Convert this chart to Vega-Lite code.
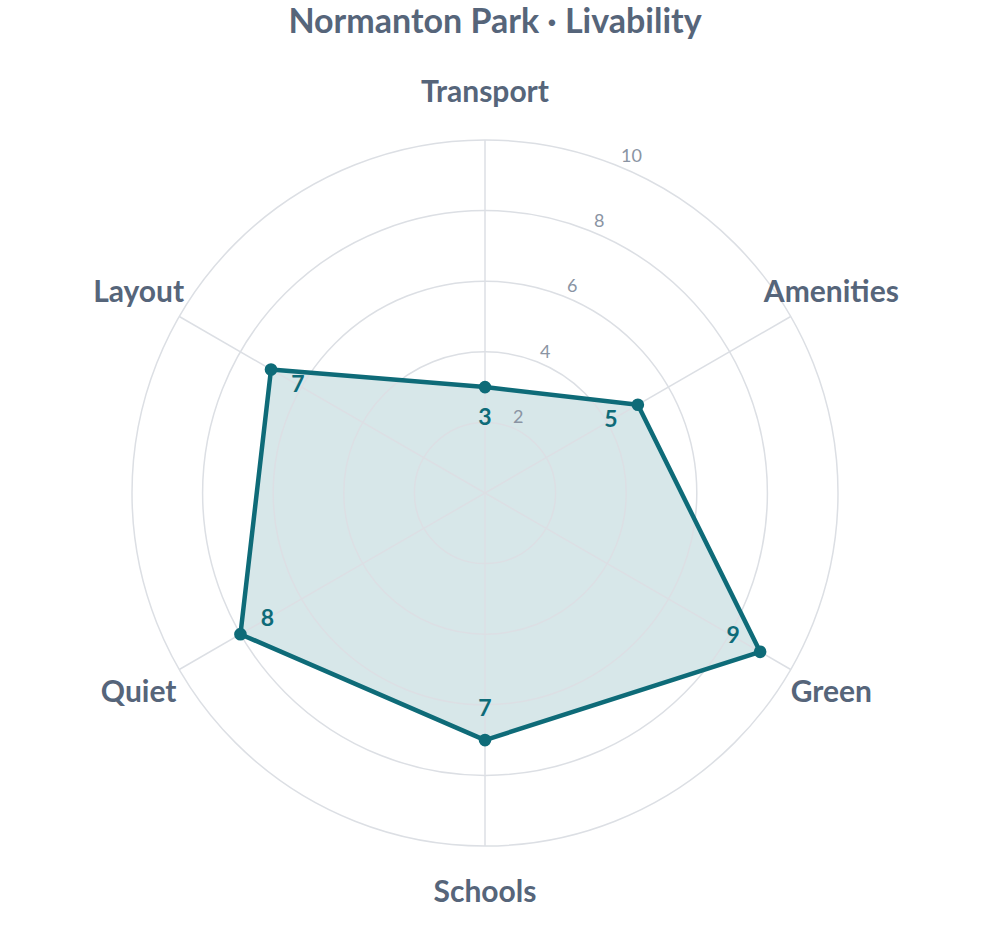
{
  "$schema": "https://vega.github.io/schema/vega-lite/v6.json",
  "description": "Livability radar for Normanton Park, six criteria scored out of 10.",
  "autosize": {"type": "none"},
  "padding": {"left": 48, "top": 56, "right": 68, "bottom": 0},
  "width": 874,
  "height": 874,
  "title": {
    "text": "Normanton Park · Livability",
    "anchor": "middle",
    "fontSize": 34,
    "fontWeight": "bold",
    "color": "#56657a",
    "font": "Lato",
    "dx": 10,
    "dy": -12
  },
  "config": {
    "view": {"stroke": null},
    "font": "Lato"
  },
  "datasets": {
    "scores": [
      {"axis": "Transport", "score": 3},
      {"axis": "Amenities", "score": 5},
      {"axis": "Green", "score": 9},
      {"axis": "Schools", "score": 7},
      {"axis": "Quiet", "score": 8},
      {"axis": "Layout", "score": 7}
    ],
    "rings": [
      {"ring": 2},
      {"ring": 4},
      {"ring": 6},
      {"ring": 8},
      {"ring": 10}
    ]
  },
  "layer": [
    {
      "data": {"name": "scores"},
      "transform": [
        {"window": [{"op": "row_number", "as": "idx"}]},
        {"calculate": "(datum.idx - 1) * PI / 3", "as": "angle"},
        {"calculate": "datum.score * sin(datum.angle)", "as": "px"},
        {"calculate": "datum.score * cos(datum.angle)", "as": "py"}
      ],
      "mark": {"type": "line", "interpolate": "linear-closed", "strokeOpacity": 0, "fill": "#0e6b78", "fillOpacity": 0.165},
      "encoding": {
        "x": {"field": "px", "type": "quantitative", "scale": {"domain": [-12.38, 12.38], "nice": false, "zero": false}, "axis": null},
        "y": {"field": "py", "type": "quantitative", "scale": {"domain": [-12.38, 12.38], "nice": false, "zero": false}, "axis": null},
        "order": {"field": "idx", "type": "quantitative"}
      }
    },
    {
      "data": {"name": "rings"},
      "transform": [
        {"calculate": "0", "as": "cx"}
      ],
      "mark": {"type": "point", "shape": "circle", "filled": false, "stroke": "#dcdfe4", "strokeWidth": 1.5, "opacity": 1},
      "encoding": {
        "x": {"field": "cx", "type": "quantitative"},
        "y": {"field": "cx", "type": "quantitative"},
        "size": {"field": "ring", "type": "quantitative", "scale": {"type": "pow", "exponent": 2, "domain": [0, 10], "range": [0, 498436]}, "legend": null}
      }
    },
    {
      "data": {"name": "scores"},
      "transform": [
        {"window": [{"op": "row_number", "as": "idx"}]},
        {"calculate": "(datum.idx - 1) * PI / 3", "as": "angle"},
        {"calculate": "0", "as": "cx"},
        {"calculate": "10 * sin(datum.angle)", "as": "sx"},
        {"calculate": "10 * cos(datum.angle)", "as": "sy"}
      ],
      "mark": {"type": "rule", "color": "#dcdfe4", "strokeWidth": 1.5},
      "encoding": {
        "x": {"field": "cx", "type": "quantitative"},
        "y": {"field": "cx", "type": "quantitative"},
        "x2": {"field": "sx"},
        "y2": {"field": "sy"}
      }
    },
    {
      "data": {"name": "rings"},
      "transform": [
        {"calculate": "datum.ring * sin(PI / 8)", "as": "tx"},
        {"calculate": "datum.ring * cos(PI / 8)", "as": "ty"}
      ],
      "mark": {"type": "text", "align": "left", "baseline": "alphabetic", "dx": 1, "dy": -5, "fontSize": 18, "color": "#8a94a3"},
      "encoding": {
        "x": {"field": "tx", "type": "quantitative"},
        "y": {"field": "ty", "type": "quantitative"},
        "text": {"field": "ring", "type": "quantitative"}
      }
    },
    {
      "data": {"name": "scores"},
      "transform": [
        {"window": [{"op": "row_number", "as": "idx"}]},
        {"calculate": "(datum.idx - 1) * PI / 3", "as": "angle"},
        {"calculate": "datum.score * sin(datum.angle)", "as": "px"},
        {"calculate": "datum.score * cos(datum.angle)", "as": "py"}
      ],
      "mark": {"type": "line", "interpolate": "linear-closed", "stroke": "#0e6b78", "strokeWidth": 4.5, "strokeJoin": "round"},
      "encoding": {
        "x": {"field": "px", "type": "quantitative"},
        "y": {"field": "py", "type": "quantitative"},
        "order": {"field": "idx", "type": "quantitative"}
      }
    },
    {
      "data": {"name": "scores"},
      "transform": [
        {"window": [{"op": "row_number", "as": "idx"}]},
        {"calculate": "(datum.idx - 1) * PI / 3", "as": "angle"},
        {"calculate": "datum.score * sin(datum.angle)", "as": "px"},
        {"calculate": "datum.score * cos(datum.angle)", "as": "py"}
      ],
      "mark": {"type": "point", "shape": "circle", "filled": true, "size": 160, "color": "#0e6b78", "opacity": 1},
      "encoding": {
        "x": {"field": "px", "type": "quantitative"},
        "y": {"field": "py", "type": "quantitative"}
      }
    },
    {
      "data": {"name": "scores"},
      "transform": [
        {"window": [{"op": "row_number", "as": "idx"}]},
        {"calculate": "(datum.idx - 1) * PI / 3", "as": "angle"},
        {"calculate": "(datum.score - 0.88) * sin(datum.angle)", "as": "vx"},
        {"calculate": "(datum.score - 0.88) * cos(datum.angle)", "as": "vy"}
      ],
      "mark": {"type": "text", "align": "center", "baseline": "middle", "fontSize": 23, "fontWeight": "bold", "color": "#0e6b78"},
      "encoding": {
        "x": {"field": "vx", "type": "quantitative"},
        "y": {"field": "vy", "type": "quantitative"},
        "text": {"field": "score", "type": "quantitative"}
      }
    },
    {
      "data": {"name": "scores"},
      "transform": [
        {"window": [{"op": "row_number", "as": "idx"}]},
        {"calculate": "(datum.idx - 1) * PI / 3", "as": "angle"},
        {"calculate": "11.33 * sin(datum.angle)", "as": "lx"},
        {"calculate": "11.33 * cos(datum.angle)", "as": "ly"}
      ],
      "mark": {"type": "text", "align": "center", "baseline": "middle", "fontSize": 30, "fontWeight": "bold", "color": "#56657a"},
      "encoding": {
        "x": {"field": "lx", "type": "quantitative"},
        "y": {"field": "ly", "type": "quantitative"},
        "text": {"field": "axis", "type": "nominal"}
      }
    }
  ]
}
